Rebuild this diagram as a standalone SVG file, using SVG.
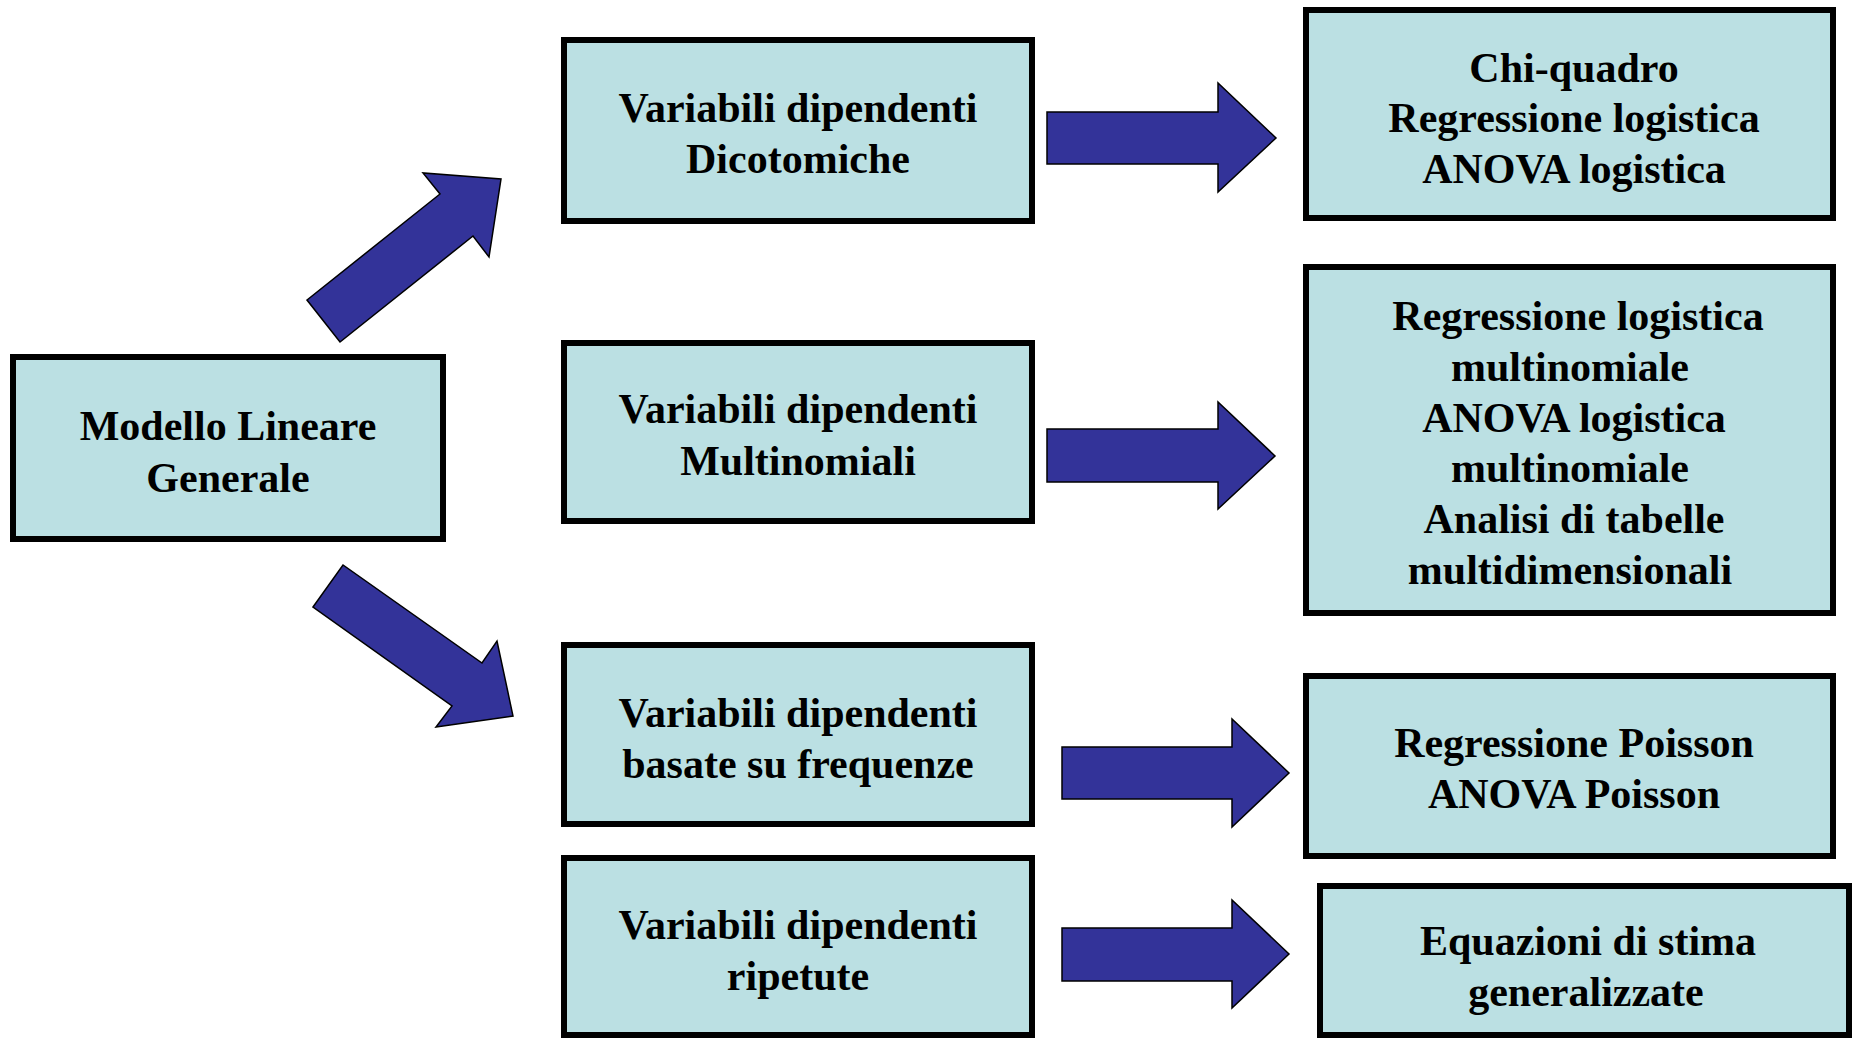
<svg xmlns="http://www.w3.org/2000/svg" width="1854" height="1038" viewBox="0 0 1854 1038">
<style>
.box{fill:#BBE0E3;stroke:#000;stroke-width:6}
.arr{fill:#333399;stroke:#000;stroke-width:1.5;stroke-linejoin:miter}
text{font-family:"Liberation Serif","Times New Roman",serif;font-weight:bold;font-size:42px;fill:#000;text-anchor:middle}
</style>
<rect width="1854" height="1038" fill="#fff"/>
<g id="connectors">
<polygon class="arr" points="307,300 440,194 423,173 501,179 489,257 473,236 340,342"/>
<polygon class="arr" points="313,607 343,565 482,663 497,641 513,716 436,727 452,706"/>
<polygon class="arr" points="1047,112 1218,112 1218,83 1276,138 1218,192 1218,164 1047,164"/>
<polygon class="arr" points="1047,429 1218,429 1218,402 1275,456 1218,509 1218,482 1047,482"/>
<polygon class="arr" points="1062,747 1232,747 1232,719 1289,773 1232,827 1232,799 1062,799"/>
<polygon class="arr" points="1062,928 1232,928 1232,900 1289,954 1232,1008 1232,981 1062,981"/>
</g>
<g id="n-modello">
<rect class="box" x="13" y="357" width="430" height="182"/>
<text x="228" y="440">Modello Lineare</text>
<text x="228" y="492">Generale</text>
</g>
<g id="n-dicotomiche">
<rect class="box" x="564" y="40" width="468" height="181"/>
<text x="798" y="122">Variabili dipendenti</text>
<text x="798" y="173">Dicotomiche</text>
</g>
<g id="n-multinomiali">
<rect class="box" x="564" y="343" width="468" height="178"/>
<text x="798" y="423">Variabili dipendenti</text>
<text x="798" y="475">Multinomiali</text>
</g>
<g id="n-frequenze">
<rect class="box" x="564" y="645" width="468" height="179"/>
<text x="798" y="727">Variabili dipendenti</text>
<text x="798" y="778">basate su frequenze</text>
</g>
<g id="n-ripetute">
<rect class="box" x="564" y="858" width="468" height="177"/>
<text x="798" y="939">Variabili dipendenti</text>
<text x="798" y="990">ripetute</text>
</g>
<g id="n-chiquadro">
<rect class="box" x="1306" y="10" width="527" height="208"/>
<text x="1574" y="82">Chi-quadro</text>
<text x="1574" y="132">Regressione logistica</text>
<text x="1574" y="183">ANOVA logistica</text>
</g>
<g id="n-multinomiale">
<rect class="box" x="1306" y="267" width="527" height="346"/>
<text x="1578" y="330">Regressione logistica</text>
<text x="1570" y="381">multinomiale</text>
<text x="1574" y="432">ANOVA logistica</text>
<text x="1570" y="482">multinomiale</text>
<text x="1574" y="533">Analisi di tabelle</text>
<text x="1570" y="584">multidimensionali</text>
</g>
<g id="n-poisson">
<rect class="box" x="1306" y="676" width="527" height="180"/>
<text x="1574" y="757">Regressione Poisson</text>
<text x="1574" y="808">ANOVA Poisson</text>
</g>
<g id="n-gee">
<rect class="box" x="1320" y="886" width="529" height="149"/>
<text x="1588" y="955">Equazioni di stima</text>
<text x="1586" y="1006">generalizzate</text>
</g>
</svg>
